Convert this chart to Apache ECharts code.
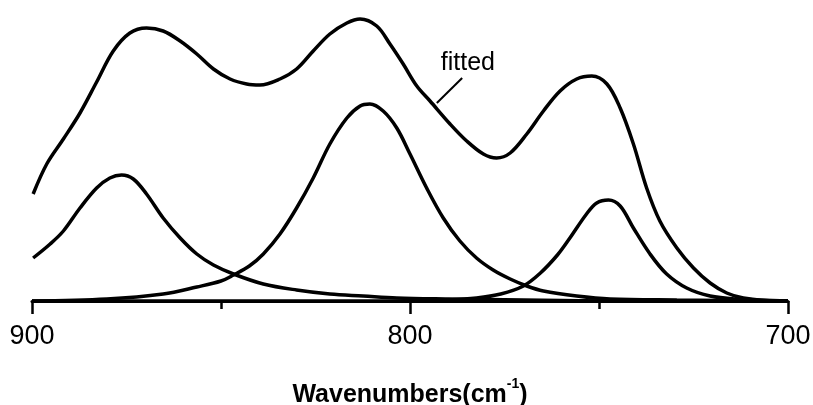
<!DOCTYPE html>
<html>
<head>
<meta charset="utf-8">
<script src="https://cdn.jsdelivr.net/npm/echarts@6/dist/echarts.min.js"></script>
<style>
html, body { margin: 0; padding: 0; background: #fff; }
#chart { width: 813px; height: 405px; }
</style>
</head>
<body>
<div id="chart"></div>
<script>
// [wavenumber, intensity] pairs
let fitted = [
    [899.7, 107], [896.1, 137], [891.7, 162], [887.3, 188], [882.9, 219], [878.5, 250],
    [874.1, 268], [869.7, 273], [865.3, 270], [860.8, 260], [856.4, 247], [852, 232],
    [847.6, 222], [843.2, 217], [839.7, 216], [834.4, 222], [830, 232], [825.6, 250],
    [821.2, 267], [816.7, 278], [813.2, 282], [808.8, 275], [805.3, 257], [801.8, 237],
    [798.2, 215], [794.7, 200], [789.4, 177], [785, 160], [780.6, 147], [777.1, 143],
    [773.5, 148], [769.1, 167], [764.7, 190], [760.3, 210], [755.9, 222], [751.9, 225],
    [747.9, 217], [744.4, 193], [740.9, 157], [737.4, 113], [733.9, 80], [729.4, 53],
    [725, 33], [720.6, 18], [716.2, 8], [711.8, 3], [703, 0], [700, 0]
]
let band1 = [
    [899.7, 43], [895.2, 57], [891.7, 70], [887.3, 93], [882.9, 113], [879.4, 123],
    [876.3, 126], [873.2, 122], [869.7, 107], [865.3, 83], [860.8, 63], [856.4, 47],
    [852, 36], [846.7, 27], [838.8, 17], [830, 11], [821.2, 7], [812.4, 5], [803.5, 3],
    [790, 2], [770, 1], [740, 0], [700, 0]
]
let band2 = [
    [900, 0], [880.2, 2], [865.3, 7], [856.4, 14], [850, 20], [846.7, 26], [842.5, 35],
    [838.8, 47], [834.4, 67], [830, 93], [825.6, 123], [821.2, 157], [816.7, 183],
    [813.2, 195], [810.6, 197], [807.1, 190], [803.5, 173], [800, 147], [795.6, 113],
    [791.2, 83], [786.8, 60], [782.4, 43], [778, 31], [773.5, 22], [769.1, 15],
    [764.7, 10], [755.9, 5], [747.1, 2], [729.4, 1], [700, 0]
]
let band3 = [
    [900, 0], [800, 0], [790, 1], [782.4, 3], [776, 7], [770, 15], [765.5, 28],
    [761, 46], [757.7, 63], [753.3, 87], [750.6, 98], [747.5, 101], [744.4, 95],
    [740.9, 73], [736.5, 47], [732.1, 27], [726.8, 13], [720.6, 5], [713.6, 2], [700, 0]
]
let xTicks = [900, 800, 700]
let labelText = 'fitted'
let labelAt = [784.7, 238]
let leaderLine = [[786.2, 223], [792.9, 198]]

let mychart = echarts.init(document.getElementById('chart'))

let curve = (name, data) => ({
    name: name,
    type: 'line',
    data: data,
    showSymbol: false,
    smooth: 0.35,
    lineStyle: { color: '#000', width: 3.5 },
    itemStyle: { color: '#000' }
})

let fittedSerie = curve('fitted', fitted)
fittedSerie.markPoint = {
    symbol: 'circle',
    symbolSize: 1,
    itemStyle: { color: 'rgba(0,0,0,0)' },
    label: {
        show: true,
        position: 'inside',
        formatter: labelText,
        color: '#000',
        fontSize: 25,
        fontFamily: 'Liberation Sans'
    },
    data: [{ coord: labelAt }]
}
fittedSerie.markLine = {
    silent: true,
    symbol: ['none', 'none'],
    label: { show: false },
    lineStyle: { color: '#000', width: 2, type: 'solid' },
    data: [[{ coord: leaderLine[0] }, { coord: leaderLine[1] }]]
}

let options = {
    animation: false,
    backgroundColor: '#fff',
    grid: { left: 32, right: 25, top: 1, bottom: 104, outerBoundsMode: 'none' },
    xAxis: {
        type: 'value',
        inverse: true,
        min: xTicks[2],
        max: xTicks[0],
        interval: 100,
        name: 'Wavenumbers(cm{sup|-1})',
        nameLocation: 'middle',
        nameGap: 76,
        nameTextStyle: {
            color: '#000',
            fontSize: 25,
            lineHeight: 36,
            fontWeight: 'bold',
            fontFamily: 'Liberation Sans',
            rich: {
                sup: {
                    fontSize: 14,
                    lineHeight: 14,
                    fontWeight: 'bold',
                    fontFamily: 'Liberation Sans',
                    color: '#000',
                    verticalAlign: 'top'
                }
            }
        },
        axisLine: { lineStyle: { color: '#000', width: 3 } },
        axisTick: { length: 13, lineStyle: { color: '#000', width: 2.5 } },
        minorTick: { show: true, splitNumber: 2, length: 8, lineStyle: { color: '#000', width: 2.5 } },
        splitLine: { show: false },
        axisLabel: {
            color: '#000',
            fontSize: 27,
            fontFamily: 'Liberation Sans',
            margin: 22
        }
    },
    yAxis: { type: 'value', min: 0, max: 300, show: false },
    series: [fittedSerie, curve('band1', band1), curve('band2', band2), curve('band3', band3)]
}
mychart.setOption(options)
window.addEventListener('resize', () => {
    mychart?.resize()
})
</script>
</body>
</html>
